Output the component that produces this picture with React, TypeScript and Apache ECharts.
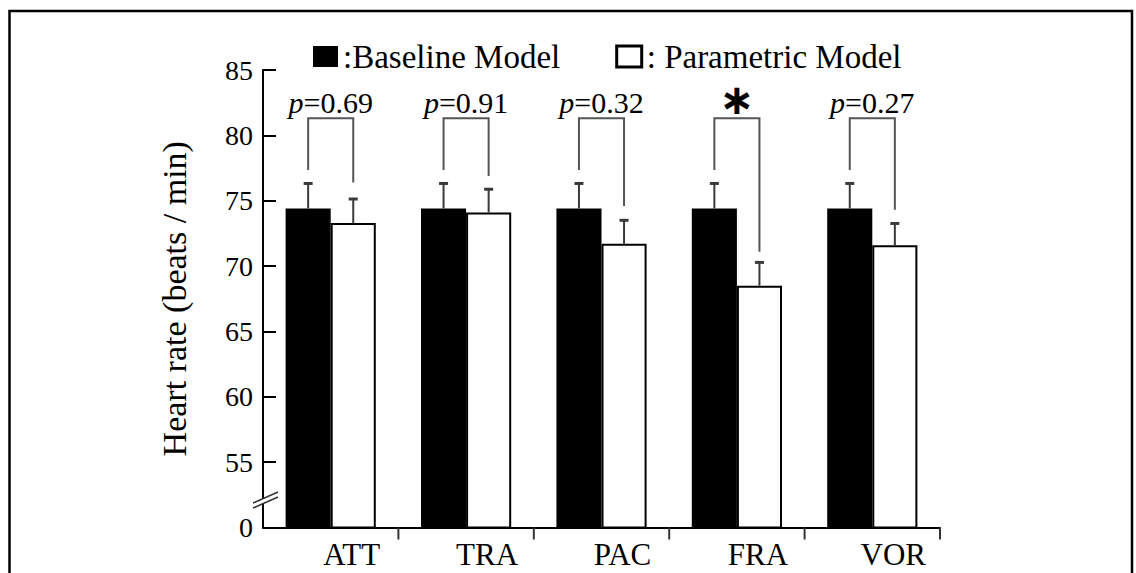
import React, { useEffect, useRef } from "react";
import * as echarts from "echarts";

const categories = ["ATT", "TRA", "PAC", "FRA", "VOR"];
const baseline = [74.4, 74.4, 74.4, 74.4, 74.4];
const baselineErr = [1.92, 1.92, 1.92, 1.92, 1.92];
const parametric = [73.3, 74.1, 71.7, 68.5, 71.6];
const parametricErr = [1.83, 1.78, 1.8, 1.78, 1.66];
const pLabels = ["p=0.69", "p=0.91", "p=0.32", "*", "p=0.27"];
const bracketTop = 81.3;
const leftLegEnd = [77.35, 77.35, 77.35, 77.35, 77.35];
const rightLegEnd = [76.4, 76.9, 74.6, 71.1, 74.3];
const yTickLabels: Record<number, string> = { 50: "0", 55: "55", 60: "60", 65: "65", 70: "70", 75: "75", 80: "80", 85: "85" };

const SERIF = "'Liberation Serif', 'Times New Roman', serif";
const BAR_FRAC = 0.333;

export default function App() {
  const ref = useRef<HTMLDivElement>(null);
  useEffect(() => {
    if (!ref.current) return;
    const chart = echarts.init(ref.current, null, { renderer: "svg" });

    const errRender = (sign: number) => (params: any, api: any) => {
      const i = api.value(0);
      const v = api.value(1);
      const e = api.value(2);
      const bw = api.size([1, 0])[0] * BAR_FRAC;
      const base = api.coord([i, v]);
      const top = api.coord([i, v + e]);
      const x = base[0] + (sign * bw) / 2;
      return {
        type: "group",
        children: [
          { type: "line", shape: { x1: x, y1: base[1], x2: x, y2: top[1] }, style: { stroke: "#3a3a3a", lineWidth: 2 } },
          { type: "line", shape: { x1: x - 4.5, y1: top[1], x2: x + 4.5, y2: top[1] }, style: { stroke: "#3a3a3a", lineWidth: 3 } },
        ],
      };
    };

    const option: any = {
      animation: false,
      backgroundColor: "#fff",
      textStyle: { fontFamily: SERIF },
      grid: { left: 263, right: 196, top: 70, bottom: 45.5, containLabel: false },
      legend: {
        left: 308,
        top: 35,
        itemWidth: 25,
        itemHeight: 21,
        itemGap: 55,
        icon: "rect",
        textStyle: { fontSize: 33, fontFamily: SERIF, color: "#000" },
        formatter: (name: string) => (name === "Baseline Model" ? ":" + name : ": " + name),
        data: [
          { name: "Baseline Model" },
          { name: "Parametric Model", itemStyle: { color: "#fff", borderColor: "#000", borderWidth: 3 } },
        ],
      },
      xAxis: {
        type: "category",
        data: categories,
        axisLine: { show: true, lineStyle: { color: "#000", width: 2 } },
        axisTick: { show: false },
        axisLabel: { fontSize: 31, color: "#000", margin: 11, padding: [0, 0, 0, 42], fontFamily: SERIF },
      },
      yAxis: {
        type: "value",
        min: 50,
        max: 85,
        interval: 5,
        name: "Heart rate (beats / min)",
        nameLocation: "middle",
        nameGap: 72,
        nameTextStyle: { fontSize: 34, color: "#000", fontFamily: SERIF },
        axisLine: { show: true, lineStyle: { color: "#000", width: 2 } },
        axisTick: { show: true, inside: true, length: 13, lineStyle: { color: "#000", width: 2 } },
        axisLabel: {
          fontSize: 28,
          color: "#000",
          margin: 10,
          fontFamily: SERIF,
          formatter: (v: number) => yTickLabels[v] ?? String(v),
        },
        splitLine: { show: false },
      },
      series: [
        {
          name: "Baseline Model",
          type: "bar",
          data: baseline,
          barWidth: "33.3%",
          barGap: "0%",
          itemStyle: { color: "#000" },
          clip: true,
        },
        {
          name: "Parametric Model",
          type: "bar",
          data: parametric,
          barWidth: "33.3%",
          barGap: "0%",
          itemStyle: { color: "#fff", borderColor: "#000", borderWidth: 2 },
          clip: true,
        },
        {
          type: "custom",
          name: "baselineErr",
          data: categories.map((_, i) => [i, baseline[i], baselineErr[i]]),
          renderItem: errRender(-1),
          z: 5,
        },
        {
          type: "custom",
          name: "parametricErr",
          data: categories.map((_, i) => [i, parametric[i], parametricErr[i]]),
          renderItem: errRender(1),
          z: 5,
        },
        {
          type: "custom",
          name: "xTicks",
          data: categories.map((_, i) => [i, 50]),
          clip: false,
          renderItem: (params: any, api: any) => {
            const i = api.value(0);
            const c = api.coord([i, 50]);
            const x = c[0] + api.size([1, 0])[0] / 2;
            return {
              type: "line",
              shape: { x1: x, y1: c[1], x2: x, y2: c[1] + 12 },
              style: { stroke: "#333", lineWidth: 2 },
            };
          },
          z: 4,
        },
        {
          type: "custom",
          name: "brackets",
          data: categories.map((_, i) => [i, bracketTop]),
          renderItem: (params: any, api: any) => {
            const i = api.value(0);
            const bw = api.size([1, 0])[0] * BAR_FRAC;
            const c = api.coord([i, bracketTop]);
            const xl = c[0] - bw / 2;
            const xr = c[0] + bw / 2;
            const yl = api.coord([i, leftLegEnd[i]])[1];
            const yr = api.coord([i, rightLegEnd[i]])[1];
            const lab = pLabels[i];
            const textEl =
              lab === "*"
                ? {
                    type: "text",
                    x: c[0],
                    y: c[1] - 19,
                    style: {
                      text: "\u2217",
                      fontSize: 42,
                      fontWeight: "bold",
                      fontFamily: "'DejaVu Sans'",
                      fill: "#000",
                      align: "center",
                      verticalAlign: "middle",
                    },
                  }
                : {
                    type: "text",
                    x: c[0],
                    y: c[1] - 16,
                    style: {
                      text: "{i|p}" + lab.slice(1),
                      rich: { i: { fontStyle: "italic", fontSize: 30, fontFamily: SERIF, fill: "#000" } },
                      fontSize: 30,
                      fontFamily: SERIF,
                      fill: "#000",
                      align: "center",
                      verticalAlign: "middle",
                    },
                  };
            return {
              type: "group",
              children: [
                {
                  type: "polyline",
                  shape: { points: [[xl, yl], [xl, c[1]], [xr, c[1]], [xr, yr]] },
                  style: { stroke: "#555", lineWidth: 2, fill: null },
                },
                textEl,
              ],
            };
          },
          z: 6,
        },
        {
          type: "custom",
          name: "axisBreak",
          data: [[0, 52.1]],
          clip: false,
          renderItem: (params: any, api: any) => {
            const c = api.coord([0, 52.1]);
            const x0 = c[0] - api.size([1, 0])[0] / 2;
            const y0 = c[1];
            return {
              type: "group",
              children: [
                {
                  type: "polygon",
                  shape: { points: [[x0 - 10, y0 + 8], [x0 + 15, y0 - 3], [x0 + 15, y0 - 8], [x0 - 10, y0 + 3]] },
                  style: { fill: "#fff" },
                },
                { type: "line", shape: { x1: x0 - 10, y1: y0 + 8, x2: x0 + 15, y2: y0 - 3 }, style: { stroke: "#333", lineWidth: 1.5 } },
                { type: "line", shape: { x1: x0 - 10, y1: y0 + 3, x2: x0 + 15, y2: y0 - 8 }, style: { stroke: "#333", lineWidth: 1.5 } },
              ],
            };
          },
          z: 10,
        },
      ],
      graphic: [
        {
          type: "polyline",
          shape: { points: [[9.5, 600], [9.5, 11], [1132, 11], [1132, 600]] },
          style: { stroke: "#000", lineWidth: 2.5, fill: null },
          silent: true,
        },
      ],
    };
    chart.setOption(option);
    return () => chart.dispose();
  }, []);
  return (
    <div
      ref={ref}
      style={{ position: "fixed", left: 0, top: 0, width: 1136, height: 573, background: "#fff" }}
    />
  );
}
